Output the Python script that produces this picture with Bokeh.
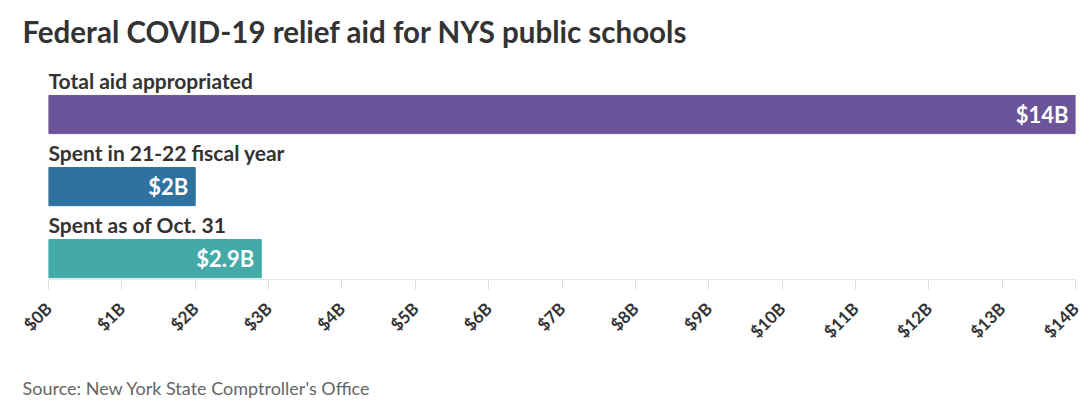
from bokeh.plotting import figure
from bokeh.models import Range1d, FixedTicker, PrintfTickFormatter, Title, ColumnDataSource
from bokeh.core.properties import value
from bokeh.embed import file_html
from bokeh.resources import INLINE

title_text = "Federal COVID-19 relief aid for NYS public schools"
source_text = "Source: New York State Comptroller's Office"
categories = ["Total aid appropriated", "Spent in 21-22 fiscal year", "Spent as of Oct. 31"]
values = [14, 2, 2.9]
value_labels = ["$14B", "$2B", "$2.9B"]
colors = ["#6b5499", "#2f72a0", "#43aaa8"]
ticks = list(range(0, 15))

FONT = "Lato"
idx = list(range(len(categories)))
src = ColumnDataSource(dict(
    y=idx, v=values, lab=value_labels, c=colors, cat=categories,
    ylab=[i - 0.47 for i in idx],
))

p = figure(width=1084, height=408, output_backend="svg", toolbar_location=None,
           x_range=Range1d(0, 14), y_range=Range1d(2.29, -0.75),
           min_border_left=48, min_border_right=9, min_border_top=60,
           min_border_bottom=129)
p.background_fill_color = "white"
p.border_fill_color = "white"
p.outline_line_color = None
p.grid.visible = False
p.yaxis.visible = False

p.hbar(y="y", left=0, right="v", height=0.53, color="c", source=src)
p.text(x="v", y="y", text="lab", source=src, text_align="right", text_baseline="middle",
       x_offset=-7, text_color="white", text_font=value(FONT), text_font_style="bold",
       text_font_size="22px")
p.text(x=0, y="ylab", text="cat", source=src, text_align="left", text_baseline="middle",
       text_color="#333333", text_font=value(FONT), text_font_style="bold",
       text_font_size="21px")

xa = p.xaxis[0]
xa.ticker = FixedTicker(ticks=ticks)
xa.formatter = PrintfTickFormatter(format="$%dB")
xa.major_label_orientation = 0.785
xa.major_label_text_font = FONT
xa.major_label_text_font_style = "bold"
xa.major_label_text_font_size = "17px"
xa.major_label_text_color = "#333333"
xa.axis_line_color = "#e6e6e6"
xa.major_tick_line_color = "#dddddd"
xa.major_tick_out = 10
xa.major_tick_in = 0
xa.minor_tick_line_color = None
xa.major_label_standoff = 16
# invisible spacer label to push the source note down
xa.axis_label = " "
xa.axis_label_text_font_size = "12px"
xa.axis_label_standoff = 7

p.title.text = title_text
p.title.text_font = FONT
p.title.text_font_size = "29.5px"
p.title.text_font_style = "bold"
p.title.text_color = "#333333"
p.title.offset = -26
p.title.standoff = 20
p.title.vertical_align = "top"

p.add_layout(Title(text=source_text, text_font=FONT, vertical_align="top",
                   text_font_size="18px", text_font_style="normal", text_color="#666666",
                   offset=-26, standoff=0), "below")

open("out.html", "w").write(file_html(p, INLINE))
